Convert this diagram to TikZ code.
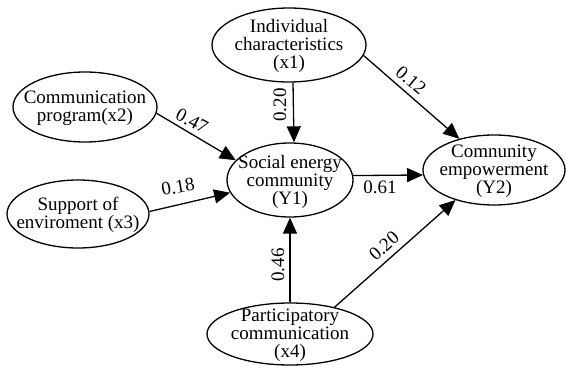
\documentclass[tikz,border=0pt]{standalone}
\usepackage{fontspec}
\setmainfont{Liberation Serif}
\usetikzlibrary{arrows.meta,shapes.geometric}
\begin{document}
\begin{tikzpicture}[x=1pt,y=-1pt,
  ell/.style={draw, ellipse, line width=1.3pt, inner sep=0pt},
  txt/.style={align=center, inner sep=0pt, font=\fontsize{19}{18}\selectfont},
  lab/.style={inner sep=0pt, font=\fontsize{19}{19}\selectfont},
  arr/.style={line width=1.3pt, -{Triangle[length=16pt,width=14pt]}}]
\useasboundingbox (0,0) rectangle (566,366);
% ellipses
\node[ell, minimum width=154pt, minimum height=74pt] (x1) at (289,45) {};
\node[txt] (x1t) at ([yshift=-1pt]x1.center) {Individual\\characteristics\\(x1)};
\node[ell, minimum width=144pt, minimum height=70pt] (x2) at (85,107) {};
\node[txt] (x2t) at ([yshift=-1pt]x2.center) {Communication\\program(x2)};
\node[ell, minimum width=142pt, minimum height=68pt] (x3) at (78,214) {};
\node[txt] (x3t) at ([yshift=-1pt]x3.center) {Support of\\enviroment (x3)};
\node[ell, minimum width=126pt, minimum height=74pt] (y1) at (290,180) {};
\node[txt] (y1t) at ([yshift=-2pt]y1.center) {Social energy\\community\\(Y1)};
\node[ell, minimum width=142pt, minimum height=70pt] (y2) at (494,170) {};
\node[txt] (y2t) at ([yshift=-1pt]y2.center) {Comnunity\\empowerment\\(Y2)};
\node[ell, minimum width=166pt, minimum height=62pt] (x4) at (290,334) {};
\node[txt] (x4t) at ([yshift=-1pt]x4.center) {Participatory\\communication\\(x4)};
% arrows
\draw[arr] ([xshift=4pt]x1.south) -- ([xshift=4pt]y1.north);
\draw[arr] (x2.-5) -- (y1.160);
\draw[arr] (x3.2) -- (y1.192);
\draw[arr] (x1.-8) -- (y2.138);
\draw[arr] (y1.4.6) -- (y2.184);
\draw[arr] (x4.north) -- (y1.south);
\draw[arr] (x4.31.7) -- (y2.218.8);
% labels
\node[lab, rotate=-28] (l1) at (192,121) {0.47};
\node[lab, rotate=90] (l2) at (280,105) {0.20};
\node[lab, rotate=-40] (l3) at (411,80) {0.12};
\node[lab] (l4) at (380,187) {0.61};
\node[lab, rotate=10] (l5) at (178,187) {0.18};
\node[lab, rotate=90] (l6) at (278,265) {0.46};
\node[lab, rotate=42] (l7) at (384,246) {0.20};
\end{tikzpicture}
\end{document}
